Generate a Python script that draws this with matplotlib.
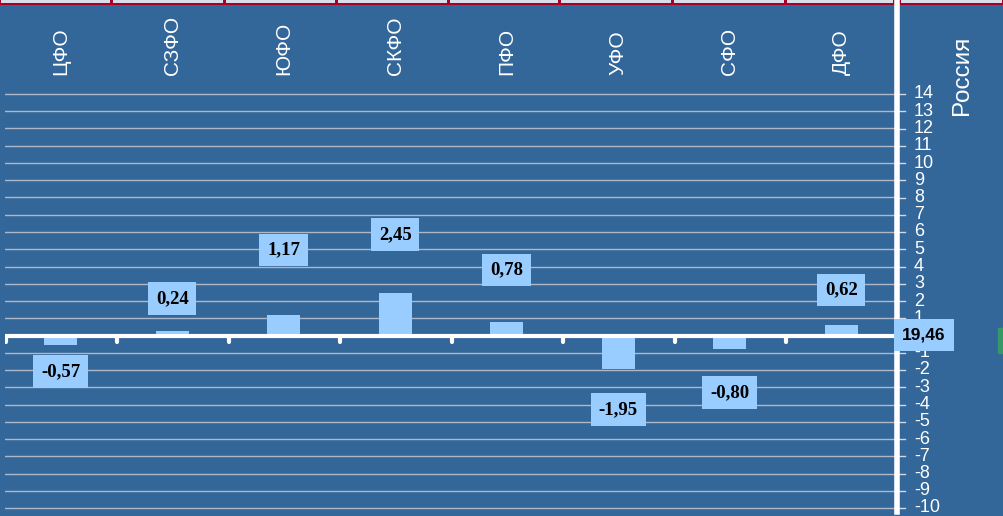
import numpy as np
import matplotlib
matplotlib.use("Agg")
import matplotlib.pyplot as plt
from matplotlib.patches import Rectangle
from matplotlib.lines import Line2D

# ---- data ----
regions = ["ЦФО", "СЗФО", "ЮФО", "СКФО", "ПФО", "УФО", "СФО", "ДФО"]
values = [-0.57, 0.24, 1.17, 2.45, 0.78, -1.95, -0.80, 0.62]
russia_label = "Россия"
russia_value = 19.46
yticks = list(range(-10, 15))

# label box centres (data units)
label_y = [-2.1, 2.14, 4.96, 5.86, 3.8, -4.29, -3.3, 2.64]

BG = "#336699"
BAR = "#99CCFF"
GRID = "#AEB8C8"
W, H = 1004, 516


def fmt(v):
    return f"{v:.2f}".replace(".", ",")


fig = plt.figure(figsize=(W / 100, H / 100), dpi=100, facecolor=BG)

# main axes: x from 5 to 897 px, full height; zero line at 335.5 px, 17.25 px/unit
px_unit = 17.25
y0 = 335.5
ax = fig.add_axes([5 / W, 0, 892 / W, 1])
ax.set_facecolor(BG)
ax.set_xlim(0, len(regions))
ax.set_ylim(-(H - y0) / px_unit, y0 / px_unit)
ax.axis("off")

# grid
for t in yticks:
    ax.axhline(t, color=GRID, lw=1.0, zorder=1)

x = np.arange(len(regions)) + 0.5
ax.bar(x, values, width=0.3, color=BAR, zorder=2)

# category axis line with downward ticks
ax.axhline(0, color="white", lw=3, zorder=3)
for b in range(len(regions)):
    ax.plot([b + 0.005, b + 0.005], [0, -0.4], color="white", lw=3,
            solid_capstyle="round", zorder=3)

# data labels
for xi, v, ly in zip(x, values, label_y):
    ax.text(xi, ly, fmt(v), ha="center", va="center", fontsize=13.5,
            fontweight="bold", family="Liberation Serif", color="black",
            bbox=dict(boxstyle="square,pad=0.42", fc=BAR, ec="none"), zorder=4)

# category labels on top
for xi, name in zip(x, regions):
    ax.text(xi, 15.1, name, rotation=90, ha="center", va="bottom",
            fontsize=15, color="white", family="Liberation Sans")

# right value axis: ticks and labels
def ypx(v):
    return 1 - (y0 - v * px_unit) / H


for t in yticks:
    fy = ypx(t)
    fig.add_artist(Line2D([898 / W, 905 / W], [fy, fy], color="#D0D8E4", lw=1.0))
    fig.text(914 / W, fy, str(t), ha="left", va="center", fontsize=13,
             color="white", family="Liberation Sans")

# thick white vertical line
fig.add_artist(Line2D([897.5 / W, 897.5 / W], [1, 1 - 512 / H], color="white", lw=4))

# Россия header and its value box
fig.text(962 / W, 1 - 115 / H, russia_label, rotation=90, ha="center", va="bottom",
         fontsize=17.5, color="white", family="Liberation Sans")
fig.text(924 / W, ypx(0) + 0.001, fmt(russia_value), ha="center", va="center",
         fontsize=12.5, fontweight="bold", color="black", family="Liberation Sans",
         bbox=dict(boxstyle="square,pad=0.5", fc=BAR, ec="none"))

# cut-off green bar at right edge
fig.add_artist(Rectangle((998 / W, 1 - 353 / H), 6 / W, 25 / H,
                         transform=fig.transFigure, color="#339966"))

# decorative top strip
fig.add_artist(Rectangle((0, 1 - 5 / H), 1, 5 / H, transform=fig.transFigure,
                         color="#A8002A", lw=0))
edges = [0, 112, 225, 337, 449, 560, 673, 786, 895, 900, W]
for a, b in zip(edges[:-1], edges[1:]):
    if a == 895:
        continue
    fig.add_artist(Rectangle(((a + 1.5) / W, 1 - 2.5 / H), (b - a - 3) / W, 2.5 / H,
                             transform=fig.transFigure, color="#D9DEE8", lw=0))

fig.savefig("out.png", dpi=100, facecolor=BG)
